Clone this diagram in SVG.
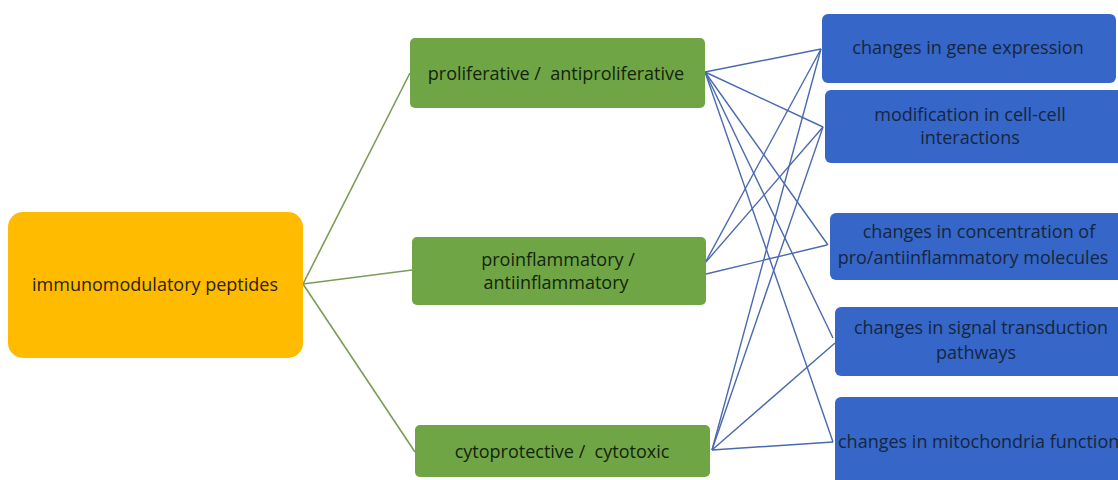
<svg xmlns="http://www.w3.org/2000/svg" width="1118" height="480" viewBox="0 0 1118 480">
<style>
.t{font-family:"Open Sans","Liberation Sans",Arial,sans-serif;font-size:18px;text-anchor:middle}
.o{fill:#FFBB00}
.g{fill:#6FA544}
.b{fill:#3566C8}
.gl{stroke:#7A9C58;stroke-width:1.6;fill:none}
.bl{stroke:#4A69AE;stroke-width:1.4;fill:none}
.tk{fill:#2a2410}
.tg{fill:#14240c}
.tb{fill:#162640}
</style>
<rect width="1118" height="480" fill="#ffffff"/>
<g id="connectors">
<line class="gl" x1="303" y1="284" x2="410" y2="73"/>
<line class="gl" x1="303" y1="284" x2="412" y2="270"/>
<line class="gl" x1="303" y1="284" x2="415" y2="452"/>
<line class="bl" x1="705" y1="72" x2="821" y2="49"/>
<line class="bl" x1="705" y1="72" x2="823" y2="127"/>
<line class="bl" x1="705" y1="72" x2="828" y2="245"/>
<line class="bl" x1="705" y1="72" x2="833" y2="338"/>
<line class="bl" x1="705" y1="72" x2="833" y2="442"/>
<line class="bl" x1="705" y1="263" x2="821" y2="49"/>
<line class="bl" x1="705" y1="263" x2="823" y2="127"/>
<line class="bl" x1="706" y1="274" x2="827" y2="245"/>
<line class="bl" x1="712" y1="450" x2="821" y2="49"/>
<line class="bl" x1="712" y1="450" x2="823" y2="127"/>
<line class="bl" x1="712" y1="450" x2="835" y2="343"/>
<line class="bl" x1="712" y1="450" x2="833" y2="442"/>
</g>
<g id="immunomodulatory">
<rect class="o" x="8" y="212" width="295" height="146" rx="15"/>
<text class="t tk" x="155" y="291">immunomodulatory peptides</text>
</g>
<g id="proliferative">
<rect class="g" x="410" y="38" width="295" height="70" rx="5"/>
<text class="t tg" x="556" y="80" xml:space="preserve">proliferative /  antiproliferative</text>
</g>
<g id="proinflammatory">
<rect class="g" x="412" y="237" width="294" height="68" rx="5"/>
<text class="t tg" x="558" y="266">proinflammatory /</text>
<text class="t tg" x="556" y="289">antiinflammatory</text>
</g>
<g id="cytoprotective">
<rect class="g" x="415" y="425" width="295" height="52" rx="5"/>
<text class="t tg" x="562" y="458" xml:space="preserve">cytoprotective /  cytotoxic</text>
</g>
<g id="gene">
<rect class="b" x="822" y="14" width="294" height="69" rx="6"/>
<text class="t tb" x="968" y="54">changes in gene expression</text>
</g>
<g id="cellcell">
<rect class="b" x="825" y="90" width="298" height="73" rx="6"/>
<text class="t tb" x="970" y="121">modification in cell-cell</text>
<text class="t tb" x="970" y="144">interactions</text>
</g>
<g id="concentration">
<rect class="b" x="830" y="213" width="293" height="67" rx="6"/>
<text class="t tb" x="979" y="238">changes in concentration of</text>
<text class="t tb" x="973" y="264">pro/antiinflammatory molecules</text>
</g>
<g id="signal">
<rect class="b" x="835" y="307" width="288" height="69" rx="6"/>
<text class="t tb" x="981" y="334">changes in signal transduction</text>
<text class="t tb" x="976" y="359">pathways</text>
</g>
<g id="mitochondria">
<rect class="b" x="835" y="397" width="290" height="90" rx="6"/>
<text class="t tb" x="838" y="448" style="text-anchor:start">changes in mitochondria function</text>
</g>
</svg>
